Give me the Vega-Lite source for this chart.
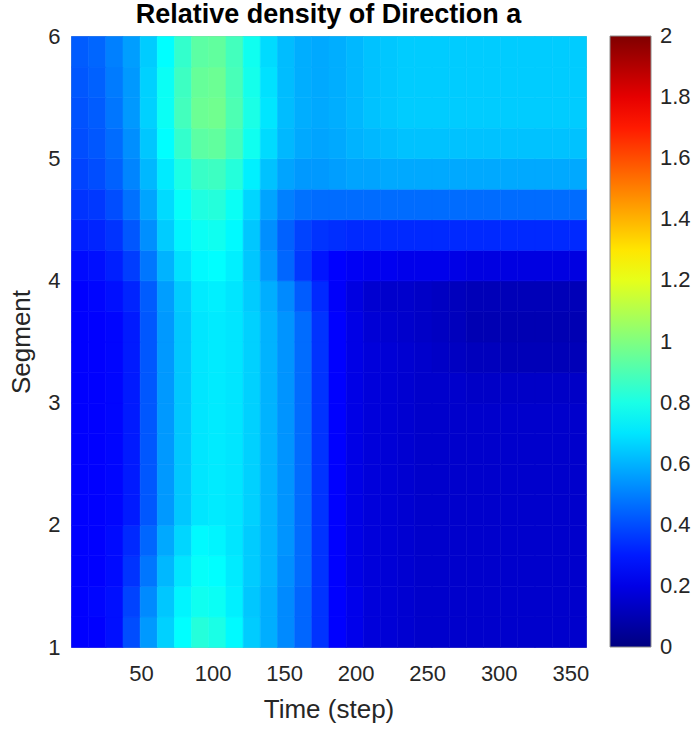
{
"$schema": "https://vega.github.io/schema/vega-lite/v6.json",
"width": 515, "height": 611,
"autosize": {"type": "none"},
"padding": {"left": 71, "top": 36, "right": 111, "bottom": 82},
"background": "white",
"title": {"text": "Relative density of Direction a", "fontSize": 27, "fontWeight": "bold", "color": "#000000", "offset": -25, "baseline": "alphabetic", "anchor": "middle", "frame": "group", "font": "Liberation Sans"},
"config": {
  "font": "Liberation Sans",
  "view": {"stroke": "#b0b0b0", "strokeWidth": 1},
  "axis": {"labelColor": "#262626", "titleColor": "#262626", "grid": false, "domain": false, "ticks": false, "labelFontSize": 22, "titleFontSize": 26, "titleFontWeight": "normal", "labelFont": "Liberation Sans", "titleFont": "Liberation Sans"}
},
"data": {"values": [
{"t":7,"s":1.125,"v":0.25},{"t":19,"s":1.125,"v":0.25},{"t":31,"s":1.125,"v":0.28},{"t":43,"s":1.125,"v":0.40},{"t":55,"s":1.125,"v":0.55},{"t":67,"s":1.125,"v":0.66},{"t":79,"s":1.125,"v":0.75},{"t":91,"s":1.125,"v":0.82},{"t":103,"s":1.125,"v":0.80},{"t":115,"s":1.125,"v":0.74},{"t":127,"s":1.125,"v":0.65},{"t":139,"s":1.125,"v":0.59},{"t":151,"s":1.125,"v":0.52},{"t":163,"s":1.125,"v":0.45},{"t":175,"s":1.125,"v":0.35},{"t":187,"s":1.125,"v":0.25},{"t":199,"s":1.125,"v":0.21},{"t":211,"s":1.125,"v":0.18},{"t":223,"s":1.125,"v":0.17},{"t":235,"s":1.125,"v":0.16},{"t":247,"s":1.125,"v":0.15},{"t":259,"s":1.125,"v":0.15},{"t":271,"s":1.125,"v":0.15},{"t":283,"s":1.125,"v":0.15},{"t":295,"s":1.125,"v":0.15},{"t":307,"s":1.125,"v":0.15},{"t":319,"s":1.125,"v":0.15},{"t":331,"s":1.125,"v":0.15},{"t":343,"s":1.125,"v":0.15},{"t":355,"s":1.125,"v":0.15},
{"t":7,"s":1.375,"v":0.25},{"t":19,"s":1.375,"v":0.26},{"t":31,"s":1.375,"v":0.28},{"t":43,"s":1.375,"v":0.38},{"t":55,"s":1.375,"v":0.52},{"t":67,"s":1.375,"v":0.64},{"t":79,"s":1.375,"v":0.73},{"t":91,"s":1.375,"v":0.78},{"t":103,"s":1.375,"v":0.77},{"t":115,"s":1.375,"v":0.72},{"t":127,"s":1.375,"v":0.64},{"t":139,"s":1.375,"v":0.59},{"t":151,"s":1.375,"v":0.52},{"t":163,"s":1.375,"v":0.45},{"t":175,"s":1.375,"v":0.35},{"t":187,"s":1.375,"v":0.25},{"t":199,"s":1.375,"v":0.21},{"t":211,"s":1.375,"v":0.18},{"t":223,"s":1.375,"v":0.17},{"t":235,"s":1.375,"v":0.16},{"t":247,"s":1.375,"v":0.15},{"t":259,"s":1.375,"v":0.15},{"t":271,"s":1.375,"v":0.15},{"t":283,"s":1.375,"v":0.15},{"t":295,"s":1.375,"v":0.15},{"t":307,"s":1.375,"v":0.15},{"t":319,"s":1.375,"v":0.15},{"t":331,"s":1.375,"v":0.15},{"t":343,"s":1.375,"v":0.15},{"t":355,"s":1.375,"v":0.15},
{"t":7,"s":1.625,"v":0.25},{"t":19,"s":1.625,"v":0.25},{"t":31,"s":1.625,"v":0.27},{"t":43,"s":1.625,"v":0.35},{"t":55,"s":1.625,"v":0.48},{"t":67,"s":1.625,"v":0.61},{"t":79,"s":1.625,"v":0.70},{"t":91,"s":1.625,"v":0.76},{"t":103,"s":1.625,"v":0.75},{"t":115,"s":1.625,"v":0.71},{"t":127,"s":1.625,"v":0.65},{"t":139,"s":1.625,"v":0.60},{"t":151,"s":1.625,"v":0.53},{"t":163,"s":1.625,"v":0.46},{"t":175,"s":1.625,"v":0.35},{"t":187,"s":1.625,"v":0.25},{"t":199,"s":1.625,"v":0.20},{"t":211,"s":1.625,"v":0.18},{"t":223,"s":1.625,"v":0.17},{"t":235,"s":1.625,"v":0.16},{"t":247,"s":1.625,"v":0.15},{"t":259,"s":1.625,"v":0.15},{"t":271,"s":1.625,"v":0.15},{"t":283,"s":1.625,"v":0.15},{"t":295,"s":1.625,"v":0.15},{"t":307,"s":1.625,"v":0.15},{"t":319,"s":1.625,"v":0.15},{"t":331,"s":1.625,"v":0.15},{"t":343,"s":1.625,"v":0.15},{"t":355,"s":1.625,"v":0.15},
{"t":7,"s":1.875,"v":0.25},{"t":19,"s":1.875,"v":0.25},{"t":31,"s":1.875,"v":0.27},{"t":43,"s":1.875,"v":0.33},{"t":55,"s":1.875,"v":0.45},{"t":67,"s":1.875,"v":0.58},{"t":79,"s":1.875,"v":0.67},{"t":91,"s":1.875,"v":0.74},{"t":103,"s":1.875,"v":0.73},{"t":115,"s":1.875,"v":0.70},{"t":127,"s":1.875,"v":0.65},{"t":139,"s":1.875,"v":0.60},{"t":151,"s":1.875,"v":0.54},{"t":163,"s":1.875,"v":0.46},{"t":175,"s":1.875,"v":0.35},{"t":187,"s":1.875,"v":0.25},{"t":199,"s":1.875,"v":0.20},{"t":211,"s":1.875,"v":0.18},{"t":223,"s":1.875,"v":0.17},{"t":235,"s":1.875,"v":0.16},{"t":247,"s":1.875,"v":0.15},{"t":259,"s":1.875,"v":0.15},{"t":271,"s":1.875,"v":0.15},{"t":283,"s":1.875,"v":0.15},{"t":295,"s":1.875,"v":0.15},{"t":307,"s":1.875,"v":0.15},{"t":319,"s":1.875,"v":0.15},{"t":331,"s":1.875,"v":0.15},{"t":343,"s":1.875,"v":0.15},{"t":355,"s":1.875,"v":0.15},
{"t":7,"s":2.125,"v":0.25},{"t":19,"s":2.125,"v":0.25},{"t":31,"s":2.125,"v":0.26},{"t":43,"s":2.125,"v":0.30},{"t":55,"s":2.125,"v":0.42},{"t":67,"s":2.125,"v":0.55},{"t":79,"s":2.125,"v":0.64},{"t":91,"s":2.125,"v":0.70},{"t":103,"s":2.125,"v":0.71},{"t":115,"s":2.125,"v":0.70},{"t":127,"s":2.125,"v":0.66},{"t":139,"s":2.125,"v":0.60},{"t":151,"s":2.125,"v":0.54},{"t":163,"s":2.125,"v":0.46},{"t":175,"s":2.125,"v":0.35},{"t":187,"s":2.125,"v":0.25},{"t":199,"s":2.125,"v":0.20},{"t":211,"s":2.125,"v":0.18},{"t":223,"s":2.125,"v":0.17},{"t":235,"s":2.125,"v":0.16},{"t":247,"s":2.125,"v":0.15},{"t":259,"s":2.125,"v":0.15},{"t":271,"s":2.125,"v":0.15},{"t":283,"s":2.125,"v":0.15},{"t":295,"s":2.125,"v":0.15},{"t":307,"s":2.125,"v":0.15},{"t":319,"s":2.125,"v":0.15},{"t":331,"s":2.125,"v":0.15},{"t":343,"s":2.125,"v":0.15},{"t":355,"s":2.125,"v":0.15},
{"t":7,"s":2.375,"v":0.25},{"t":19,"s":2.375,"v":0.25},{"t":31,"s":2.375,"v":0.26},{"t":43,"s":2.375,"v":0.30},{"t":55,"s":2.375,"v":0.42},{"t":67,"s":2.375,"v":0.55},{"t":79,"s":2.375,"v":0.64},{"t":91,"s":2.375,"v":0.70},{"t":103,"s":2.375,"v":0.71},{"t":115,"s":2.375,"v":0.70},{"t":127,"s":2.375,"v":0.66},{"t":139,"s":2.375,"v":0.60},{"t":151,"s":2.375,"v":0.54},{"t":163,"s":2.375,"v":0.46},{"t":175,"s":2.375,"v":0.35},{"t":187,"s":2.375,"v":0.25},{"t":199,"s":2.375,"v":0.20},{"t":211,"s":2.375,"v":0.18},{"t":223,"s":2.375,"v":0.17},{"t":235,"s":2.375,"v":0.16},{"t":247,"s":2.375,"v":0.15},{"t":259,"s":2.375,"v":0.15},{"t":271,"s":2.375,"v":0.15},{"t":283,"s":2.375,"v":0.15},{"t":295,"s":2.375,"v":0.15},{"t":307,"s":2.375,"v":0.15},{"t":319,"s":2.375,"v":0.15},{"t":331,"s":2.375,"v":0.15},{"t":343,"s":2.375,"v":0.15},{"t":355,"s":2.375,"v":0.15},
{"t":7,"s":2.625,"v":0.25},{"t":19,"s":2.625,"v":0.25},{"t":31,"s":2.625,"v":0.26},{"t":43,"s":2.625,"v":0.30},{"t":55,"s":2.625,"v":0.42},{"t":67,"s":2.625,"v":0.55},{"t":79,"s":2.625,"v":0.64},{"t":91,"s":2.625,"v":0.70},{"t":103,"s":2.625,"v":0.71},{"t":115,"s":2.625,"v":0.70},{"t":127,"s":2.625,"v":0.66},{"t":139,"s":2.625,"v":0.60},{"t":151,"s":2.625,"v":0.54},{"t":163,"s":2.625,"v":0.46},{"t":175,"s":2.625,"v":0.35},{"t":187,"s":2.625,"v":0.25},{"t":199,"s":2.625,"v":0.20},{"t":211,"s":2.625,"v":0.18},{"t":223,"s":2.625,"v":0.17},{"t":235,"s":2.625,"v":0.16},{"t":247,"s":2.625,"v":0.15},{"t":259,"s":2.625,"v":0.15},{"t":271,"s":2.625,"v":0.15},{"t":283,"s":2.625,"v":0.15},{"t":295,"s":2.625,"v":0.15},{"t":307,"s":2.625,"v":0.15},{"t":319,"s":2.625,"v":0.15},{"t":331,"s":2.625,"v":0.15},{"t":343,"s":2.625,"v":0.15},{"t":355,"s":2.625,"v":0.15},
{"t":7,"s":2.875,"v":0.25},{"t":19,"s":2.875,"v":0.25},{"t":31,"s":2.875,"v":0.26},{"t":43,"s":2.875,"v":0.30},{"t":55,"s":2.875,"v":0.42},{"t":67,"s":2.875,"v":0.55},{"t":79,"s":2.875,"v":0.64},{"t":91,"s":2.875,"v":0.70},{"t":103,"s":2.875,"v":0.71},{"t":115,"s":2.875,"v":0.70},{"t":127,"s":2.875,"v":0.66},{"t":139,"s":2.875,"v":0.60},{"t":151,"s":2.875,"v":0.54},{"t":163,"s":2.875,"v":0.46},{"t":175,"s":2.875,"v":0.35},{"t":187,"s":2.875,"v":0.25},{"t":199,"s":2.875,"v":0.20},{"t":211,"s":2.875,"v":0.18},{"t":223,"s":2.875,"v":0.17},{"t":235,"s":2.875,"v":0.16},{"t":247,"s":2.875,"v":0.15},{"t":259,"s":2.875,"v":0.15},{"t":271,"s":2.875,"v":0.15},{"t":283,"s":2.875,"v":0.15},{"t":295,"s":2.875,"v":0.15},{"t":307,"s":2.875,"v":0.15},{"t":319,"s":2.875,"v":0.15},{"t":331,"s":2.875,"v":0.15},{"t":343,"s":2.875,"v":0.15},{"t":355,"s":2.875,"v":0.15},
{"t":7,"s":3.125,"v":0.25},{"t":19,"s":3.125,"v":0.25},{"t":31,"s":3.125,"v":0.26},{"t":43,"s":3.125,"v":0.30},{"t":55,"s":3.125,"v":0.42},{"t":67,"s":3.125,"v":0.55},{"t":79,"s":3.125,"v":0.64},{"t":91,"s":3.125,"v":0.70},{"t":103,"s":3.125,"v":0.71},{"t":115,"s":3.125,"v":0.70},{"t":127,"s":3.125,"v":0.66},{"t":139,"s":3.125,"v":0.60},{"t":151,"s":3.125,"v":0.54},{"t":163,"s":3.125,"v":0.46},{"t":175,"s":3.125,"v":0.35},{"t":187,"s":3.125,"v":0.25},{"t":199,"s":3.125,"v":0.20},{"t":211,"s":3.125,"v":0.18},{"t":223,"s":3.125,"v":0.17},{"t":235,"s":3.125,"v":0.16},{"t":247,"s":3.125,"v":0.15},{"t":259,"s":3.125,"v":0.15},{"t":271,"s":3.125,"v":0.15},{"t":283,"s":3.125,"v":0.14},{"t":295,"s":3.125,"v":0.14},{"t":307,"s":3.125,"v":0.14},{"t":319,"s":3.125,"v":0.14},{"t":331,"s":3.125,"v":0.14},{"t":343,"s":3.125,"v":0.14},{"t":355,"s":3.125,"v":0.14},
{"t":7,"s":3.375,"v":0.25},{"t":19,"s":3.375,"v":0.25},{"t":31,"s":3.375,"v":0.26},{"t":43,"s":3.375,"v":0.30},{"t":55,"s":3.375,"v":0.42},{"t":67,"s":3.375,"v":0.55},{"t":79,"s":3.375,"v":0.64},{"t":91,"s":3.375,"v":0.70},{"t":103,"s":3.375,"v":0.71},{"t":115,"s":3.375,"v":0.70},{"t":127,"s":3.375,"v":0.66},{"t":139,"s":3.375,"v":0.60},{"t":151,"s":3.375,"v":0.54},{"t":163,"s":3.375,"v":0.46},{"t":175,"s":3.375,"v":0.35},{"t":187,"s":3.375,"v":0.25},{"t":199,"s":3.375,"v":0.20},{"t":211,"s":3.375,"v":0.18},{"t":223,"s":3.375,"v":0.17},{"t":235,"s":3.375,"v":0.16},{"t":247,"s":3.375,"v":0.15},{"t":259,"s":3.375,"v":0.14},{"t":271,"s":3.375,"v":0.13},{"t":283,"s":3.375,"v":0.12},{"t":295,"s":3.375,"v":0.12},{"t":307,"s":3.375,"v":0.11},{"t":319,"s":3.375,"v":0.11},{"t":331,"s":3.375,"v":0.11},{"t":343,"s":3.375,"v":0.11},{"t":355,"s":3.375,"v":0.11},
{"t":7,"s":3.625,"v":0.25},{"t":19,"s":3.625,"v":0.25},{"t":31,"s":3.625,"v":0.26},{"t":43,"s":3.625,"v":0.30},{"t":55,"s":3.625,"v":0.42},{"t":67,"s":3.625,"v":0.55},{"t":79,"s":3.625,"v":0.64},{"t":91,"s":3.625,"v":0.70},{"t":103,"s":3.625,"v":0.71},{"t":115,"s":3.625,"v":0.70},{"t":127,"s":3.625,"v":0.66},{"t":139,"s":3.625,"v":0.60},{"t":151,"s":3.625,"v":0.54},{"t":163,"s":3.625,"v":0.46},{"t":175,"s":3.625,"v":0.35},{"t":187,"s":3.625,"v":0.25},{"t":199,"s":3.625,"v":0.20},{"t":211,"s":3.625,"v":0.17},{"t":223,"s":3.625,"v":0.16},{"t":235,"s":3.625,"v":0.15},{"t":247,"s":3.625,"v":0.14},{"t":259,"s":3.625,"v":0.13},{"t":271,"s":3.625,"v":0.12},{"t":283,"s":3.625,"v":0.10},{"t":295,"s":3.625,"v":0.10},{"t":307,"s":3.625,"v":0.10},{"t":319,"s":3.625,"v":0.10},{"t":331,"s":3.625,"v":0.10},{"t":343,"s":3.625,"v":0.10},{"t":355,"s":3.625,"v":0.10},
{"t":7,"s":3.875,"v":0.25},{"t":19,"s":3.875,"v":0.26},{"t":31,"s":3.875,"v":0.28},{"t":43,"s":3.875,"v":0.32},{"t":55,"s":3.875,"v":0.43},{"t":67,"s":3.875,"v":0.56},{"t":79,"s":3.875,"v":0.65},{"t":91,"s":3.875,"v":0.71},{"t":103,"s":3.875,"v":0.72},{"t":115,"s":3.875,"v":0.70},{"t":127,"s":3.875,"v":0.65},{"t":139,"s":3.875,"v":0.59},{"t":151,"s":3.875,"v":0.52},{"t":163,"s":3.875,"v":0.43},{"t":175,"s":3.875,"v":0.33},{"t":187,"s":3.875,"v":0.24},{"t":199,"s":3.875,"v":0.19},{"t":211,"s":3.875,"v":0.16},{"t":223,"s":3.875,"v":0.15},{"t":235,"s":3.875,"v":0.15},{"t":247,"s":3.875,"v":0.14},{"t":259,"s":3.875,"v":0.13},{"t":271,"s":3.875,"v":0.12},{"t":283,"s":3.875,"v":0.11},{"t":295,"s":3.875,"v":0.11},{"t":307,"s":3.875,"v":0.11},{"t":319,"s":3.875,"v":0.11},{"t":331,"s":3.875,"v":0.11},{"t":343,"s":3.875,"v":0.11},{"t":355,"s":3.875,"v":0.11},
{"t":7,"s":4.125,"v":0.27},{"t":19,"s":4.125,"v":0.28},{"t":31,"s":4.125,"v":0.31},{"t":43,"s":4.125,"v":0.37},{"t":55,"s":4.125,"v":0.48},{"t":67,"s":4.125,"v":0.60},{"t":79,"s":4.125,"v":0.69},{"t":91,"s":4.125,"v":0.74},{"t":103,"s":4.125,"v":0.75},{"t":115,"s":4.125,"v":0.72},{"t":127,"s":4.125,"v":0.64},{"t":139,"s":4.125,"v":0.55},{"t":151,"s":4.125,"v":0.45},{"t":163,"s":4.125,"v":0.36},{"t":175,"s":4.125,"v":0.29},{"t":187,"s":4.125,"v":0.25},{"t":199,"s":4.125,"v":0.23},{"t":211,"s":4.125,"v":0.22},{"t":223,"s":4.125,"v":0.22},{"t":235,"s":4.125,"v":0.21},{"t":247,"s":4.125,"v":0.21},{"t":259,"s":4.125,"v":0.21},{"t":271,"s":4.125,"v":0.20},{"t":283,"s":4.125,"v":0.19},{"t":295,"s":4.125,"v":0.19},{"t":307,"s":4.125,"v":0.19},{"t":319,"s":4.125,"v":0.19},{"t":331,"s":4.125,"v":0.19},{"t":343,"s":4.125,"v":0.19},{"t":355,"s":4.125,"v":0.19},
{"t":7,"s":4.375,"v":0.31},{"t":19,"s":4.375,"v":0.32},{"t":31,"s":4.375,"v":0.35},{"t":43,"s":4.375,"v":0.42},{"t":55,"s":4.375,"v":0.53},{"t":67,"s":4.375,"v":0.65},{"t":79,"s":4.375,"v":0.73},{"t":91,"s":4.375,"v":0.77},{"t":103,"s":4.375,"v":0.78},{"t":115,"s":4.375,"v":0.74},{"t":127,"s":4.375,"v":0.64},{"t":139,"s":4.375,"v":0.53},{"t":151,"s":4.375,"v":0.44},{"t":163,"s":4.375,"v":0.38},{"t":175,"s":4.375,"v":0.35},{"t":187,"s":4.375,"v":0.34},{"t":199,"s":4.375,"v":0.33},{"t":211,"s":4.375,"v":0.33},{"t":223,"s":4.375,"v":0.33},{"t":235,"s":4.375,"v":0.33},{"t":247,"s":4.375,"v":0.33},{"t":259,"s":4.375,"v":0.33},{"t":271,"s":4.375,"v":0.33},{"t":283,"s":4.375,"v":0.33},{"t":295,"s":4.375,"v":0.33},{"t":307,"s":4.375,"v":0.33},{"t":319,"s":4.375,"v":0.33},{"t":331,"s":4.375,"v":0.33},{"t":343,"s":4.375,"v":0.33},{"t":355,"s":4.375,"v":0.33},
{"t":7,"s":4.625,"v":0.35},{"t":19,"s":4.625,"v":0.36},{"t":31,"s":4.625,"v":0.40},{"t":43,"s":4.625,"v":0.47},{"t":55,"s":4.625,"v":0.57},{"t":67,"s":4.625,"v":0.68},{"t":79,"s":4.625,"v":0.76},{"t":91,"s":4.625,"v":0.81},{"t":103,"s":4.625,"v":0.82},{"t":115,"s":4.625,"v":0.77},{"t":127,"s":4.625,"v":0.67},{"t":139,"s":4.625,"v":0.57},{"t":151,"s":4.625,"v":0.50},{"t":163,"s":4.625,"v":0.47},{"t":175,"s":4.625,"v":0.46},{"t":187,"s":4.625,"v":0.46},{"t":199,"s":4.625,"v":0.46},{"t":211,"s":4.625,"v":0.46},{"t":223,"s":4.625,"v":0.46},{"t":235,"s":4.625,"v":0.46},{"t":247,"s":4.625,"v":0.46},{"t":259,"s":4.625,"v":0.46},{"t":271,"s":4.625,"v":0.46},{"t":283,"s":4.625,"v":0.46},{"t":295,"s":4.625,"v":0.46},{"t":307,"s":4.625,"v":0.46},{"t":319,"s":4.625,"v":0.46},{"t":331,"s":4.625,"v":0.46},{"t":343,"s":4.625,"v":0.46},{"t":355,"s":4.625,"v":0.46},
{"t":7,"s":4.875,"v":0.38},{"t":19,"s":4.875,"v":0.40},{"t":31,"s":4.875,"v":0.44},{"t":43,"s":4.875,"v":0.51},{"t":55,"s":4.875,"v":0.61},{"t":67,"s":4.875,"v":0.71},{"t":79,"s":4.875,"v":0.80},{"t":91,"s":4.875,"v":0.86},{"t":103,"s":4.875,"v":0.87},{"t":115,"s":4.875,"v":0.82},{"t":127,"s":4.875,"v":0.72},{"t":139,"s":4.875,"v":0.63},{"t":151,"s":4.875,"v":0.57},{"t":163,"s":4.875,"v":0.55},{"t":175,"s":4.875,"v":0.55},{"t":187,"s":4.875,"v":0.56},{"t":199,"s":4.875,"v":0.57},{"t":211,"s":4.875,"v":0.57},{"t":223,"s":4.875,"v":0.58},{"t":235,"s":4.875,"v":0.58},{"t":247,"s":4.875,"v":0.58},{"t":259,"s":4.875,"v":0.58},{"t":271,"s":4.875,"v":0.58},{"t":283,"s":4.875,"v":0.58},{"t":295,"s":4.875,"v":0.58},{"t":307,"s":4.875,"v":0.58},{"t":319,"s":4.875,"v":0.58},{"t":331,"s":4.875,"v":0.58},{"t":343,"s":4.875,"v":0.58},{"t":355,"s":4.875,"v":0.58},
{"t":7,"s":5.125,"v":0.40},{"t":19,"s":5.125,"v":0.42},{"t":31,"s":5.125,"v":0.46},{"t":43,"s":5.125,"v":0.53},{"t":55,"s":5.125,"v":0.64},{"t":67,"s":5.125,"v":0.75},{"t":79,"s":5.125,"v":0.85},{"t":91,"s":5.125,"v":0.93},{"t":103,"s":5.125,"v":0.94},{"t":115,"s":5.125,"v":0.88},{"t":127,"s":5.125,"v":0.78},{"t":139,"s":5.125,"v":0.68},{"t":151,"s":5.125,"v":0.61},{"t":163,"s":5.125,"v":0.58},{"t":175,"s":5.125,"v":0.57},{"t":187,"s":5.125,"v":0.58},{"t":199,"s":5.125,"v":0.60},{"t":211,"s":5.125,"v":0.61},{"t":223,"s":5.125,"v":0.62},{"t":235,"s":5.125,"v":0.63},{"t":247,"s":5.125,"v":0.63},{"t":259,"s":5.125,"v":0.63},{"t":271,"s":5.125,"v":0.63},{"t":283,"s":5.125,"v":0.63},{"t":295,"s":5.125,"v":0.63},{"t":307,"s":5.125,"v":0.63},{"t":319,"s":5.125,"v":0.63},{"t":331,"s":5.125,"v":0.63},{"t":343,"s":5.125,"v":0.63},{"t":355,"s":5.125,"v":0.63},
{"t":7,"s":5.375,"v":0.41},{"t":19,"s":5.375,"v":0.43},{"t":31,"s":5.375,"v":0.48},{"t":43,"s":5.375,"v":0.55},{"t":55,"s":5.375,"v":0.66},{"t":67,"s":5.375,"v":0.77},{"t":79,"s":5.375,"v":0.88},{"t":91,"s":5.375,"v":0.96},{"t":103,"s":5.375,"v":0.97},{"t":115,"s":5.375,"v":0.90},{"t":127,"s":5.375,"v":0.80},{"t":139,"s":5.375,"v":0.70},{"t":151,"s":5.375,"v":0.62},{"t":163,"s":5.375,"v":0.59},{"t":175,"s":5.375,"v":0.58},{"t":187,"s":5.375,"v":0.59},{"t":199,"s":5.375,"v":0.61},{"t":211,"s":5.375,"v":0.63},{"t":223,"s":5.375,"v":0.64},{"t":235,"s":5.375,"v":0.65},{"t":247,"s":5.375,"v":0.65},{"t":259,"s":5.375,"v":0.65},{"t":271,"s":5.375,"v":0.65},{"t":283,"s":5.375,"v":0.65},{"t":295,"s":5.375,"v":0.65},{"t":307,"s":5.375,"v":0.65},{"t":319,"s":5.375,"v":0.65},{"t":331,"s":5.375,"v":0.65},{"t":343,"s":5.375,"v":0.65},{"t":355,"s":5.375,"v":0.65},
{"t":7,"s":5.625,"v":0.42},{"t":19,"s":5.625,"v":0.44},{"t":31,"s":5.625,"v":0.49},{"t":43,"s":5.625,"v":0.55},{"t":55,"s":5.625,"v":0.66},{"t":67,"s":5.625,"v":0.77},{"t":79,"s":5.625,"v":0.87},{"t":91,"s":5.625,"v":0.95},{"t":103,"s":5.625,"v":0.96},{"t":115,"s":5.625,"v":0.89},{"t":127,"s":5.625,"v":0.79},{"t":139,"s":5.625,"v":0.69},{"t":151,"s":5.625,"v":0.62},{"t":163,"s":5.625,"v":0.59},{"t":175,"s":5.625,"v":0.58},{"t":187,"s":5.625,"v":0.59},{"t":199,"s":5.625,"v":0.61},{"t":211,"s":5.625,"v":0.63},{"t":223,"s":5.625,"v":0.64},{"t":235,"s":5.625,"v":0.65},{"t":247,"s":5.625,"v":0.65},{"t":259,"s":5.625,"v":0.65},{"t":271,"s":5.625,"v":0.65},{"t":283,"s":5.625,"v":0.65},{"t":295,"s":5.625,"v":0.65},{"t":307,"s":5.625,"v":0.65},{"t":319,"s":5.625,"v":0.65},{"t":331,"s":5.625,"v":0.65},{"t":343,"s":5.625,"v":0.65},{"t":355,"s":5.625,"v":0.65},
{"t":7,"s":5.875,"v":0.43},{"t":19,"s":5.875,"v":0.45},{"t":31,"s":5.875,"v":0.50},{"t":43,"s":5.875,"v":0.56},{"t":55,"s":5.875,"v":0.65},{"t":67,"s":5.875,"v":0.75},{"t":79,"s":5.875,"v":0.85},{"t":91,"s":5.875,"v":0.93},{"t":103,"s":5.875,"v":0.94},{"t":115,"s":5.875,"v":0.88},{"t":127,"s":5.875,"v":0.78},{"t":139,"s":5.875,"v":0.68},{"t":151,"s":5.875,"v":0.62},{"t":163,"s":5.875,"v":0.59},{"t":175,"s":5.875,"v":0.58},{"t":187,"s":5.875,"v":0.59},{"t":199,"s":5.875,"v":0.61},{"t":211,"s":5.875,"v":0.63},{"t":223,"s":5.875,"v":0.64},{"t":235,"s":5.875,"v":0.65},{"t":247,"s":5.875,"v":0.65},{"t":259,"s":5.875,"v":0.65},{"t":271,"s":5.875,"v":0.65},{"t":283,"s":5.875,"v":0.65},{"t":295,"s":5.875,"v":0.65},{"t":307,"s":5.875,"v":0.65},{"t":319,"s":5.875,"v":0.65},{"t":331,"s":5.875,"v":0.65},{"t":343,"s":5.875,"v":0.65},{"t":355,"s":5.875,"v":0.65}
]},
"mark": {"type": "rect", "binSpacing": 0, "strokeWidth": 0.6},
"encoding": {
  "x": {"field": "t", "type": "quantitative", "bin": {"step": 12, "extent": [1, 361], "nice": false},
        "scale": {"domain": [1, 361], "nice": false, "zero": false},
        "axis": {"values": [50, 100, 150, 200, 250, 300, 350], "format": "d", "title": "Time (step)", "labelPadding": 16, "titlePadding": 12, "labelFlush": false}},
  "y": {"field": "s", "type": "quantitative", "bin": {"step": 0.25, "extent": [1, 6], "nice": false},
        "scale": {"domain": [1, 6], "nice": false, "zero": false},
        "axis": {"values": [1, 2, 3, 4, 5, 6], "format": "d", "title": "Segment", "labelPadding": 11, "titlePadding": 13, "labelFlush": false}},
  "fill": {"field": "v", "type": "quantitative",
        "scale": {"type": "linear", "domain": [0, 0.25, 0.5, 0.75, 1, 1.25, 1.5, 1.75, 2], "range": ["#000080", "#0000ff", "#0080ff", "#00ffff", "#80ff80", "#ffff00", "#ff8000", "#ff0000", "#800000"], "interpolate": "rgb"},
        "legend": {"type": "gradient", "title": null, "direction": "vertical", "orient": "right", "offset": 24, "gradientLength": 611, "gradientThickness": 41, "gradientStrokeColor": "#8c8c8c", "gradientStrokeWidth": 1, "values": [0, 0.2, 0.4, 0.6, 0.8, 1, 1.2, 1.4, 1.6, 1.8, 2], "format": "~g", "labelFontSize": 22, "labelColor": "#262626", "labelOffset": 9, "labelOverlap": false, "padding": 0,
          "encode": {"labels": {"update": {"baseline": {"value": "middle"}}}}}},
  "stroke": {"field": "v", "type": "quantitative",
        "scale": {"type": "linear", "domain": [0, 0.25, 0.5, 0.75, 1, 1.25, 1.5, 1.75, 2.0001], "range": ["#000080", "#0000ff", "#0080ff", "#00ffff", "#80ff80", "#ffff00", "#ff8000", "#ff0000", "#800000"], "interpolate": "rgb"},
        "legend": null}
}
}
